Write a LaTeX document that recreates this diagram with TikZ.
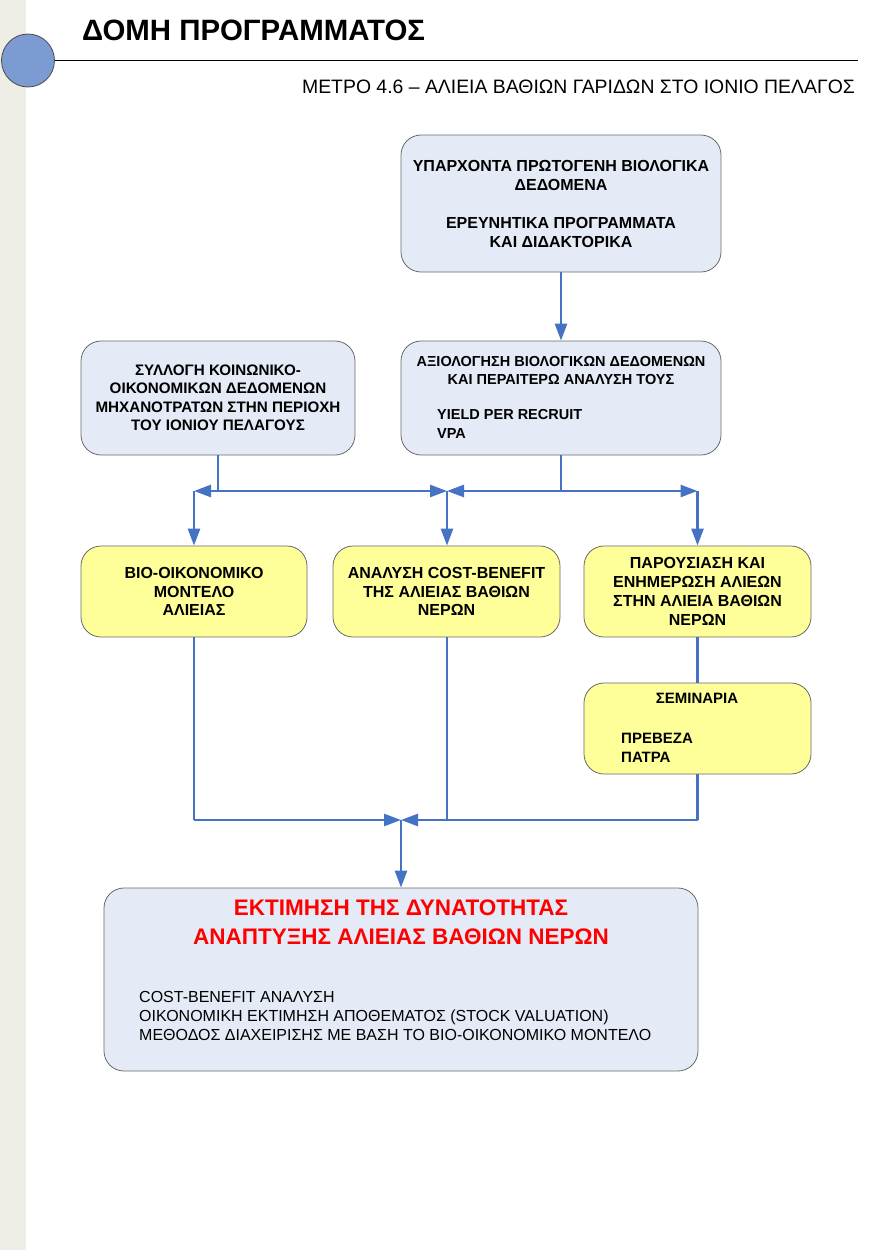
\documentclass[tikz,border=0pt]{standalone}
\usepackage{fontspec}
\setmainfont{Liberation Sans}
\usetikzlibrary{arrows.meta}

\definecolor{flowblue}{RGB}{68,114,196}
\definecolor{boxblue}{RGB}{229,235,246}
\definecolor{boxyellow}{RGB}{255,255,153}
\definecolor{boxline}{RGB}{105,105,105}
\definecolor{sidestrip}{RGB}{238,238,230}
\definecolor{dotblue}{RGB}{124,155,210}

\tikzset{
  bluebox/.style={draw=boxline, fill=boxblue, rounded corners=20pt, line width=0.8pt, inner sep=0pt, align=center},
  yellowbox/.style={draw=boxline, fill=boxyellow, rounded corners=20pt, line width=0.8pt, inner sep=0pt, align=center},
  flow/.style={draw=flowblue, line width=2.6pt},
  flowarrow/.style={flow, -{Triangle[length=17pt,width=12pt]}},
  label/.style={inner sep=0pt},
}

\begin{document}
\begin{tikzpicture}[x=1pt, y=-1pt]
    \useasboundingbox (0,0) rectangle (870,1250);
    \fill[sidestrip] (0,0) rectangle (26,1250);

    % header
    \node[circle, draw=black!70, fill=dotblue, line width=0.8pt, minimum size=53pt, inner sep=0pt] (dot) at (28,60.5) {};
    \draw[line width=1.4pt] (dot.east) -- (858,60.5);
    \node[label, anchor=base west, font=\fontsize{29.4}{34}\selectfont\bfseries] (title) at (82,40) {ΔΟΜΗ ΠΡΟΓΡΑΜΜΑΤΟΣ};
    \node[label, anchor=base east, font=\fontsize{19.4}{22}\selectfont] (subtitle) at (855,93) {ΜΕΤΡΟ 4.6 – ΑΛΙΕΙΑ ΒΑΘΙΩΝ ΓΑΡΙΔΩΝ ΣΤΟ ΙΟΝΙΟ ΠΕΛΑΓΟΣ};

    % boxes
    \node[bluebox, minimum width=320pt, minimum height=137pt, font=\fontsize{16}{19}\selectfont\bfseries] (sources) at (561,203.5)
        {ΥΠΑΡΧΟΝΤΑ ΠΡΩΤΟΓΕΝΗ ΒΙΟΛΟΓΙΚΑ\\ΔΕΔΟΜΕΝΑ\\[19pt]ΕΡΕΥΝΗΤΙΚΑ ΠΡΟΓΡΑΜΜΑΤΑ\\ΚΑΙ ΔΙΔΑΚΤΟΡΙΚΑ};
    \node[bluebox, minimum width=274pt, minimum height=114pt, font=\fontsize{15.2}{18.5}\selectfont\bfseries] (social) at (218,398)
        {ΣΥΛΛΟΓΗ ΚΟΙΝΩΝΙΚΟ-\\ΟΙΚΟΝΟΜΙΚΩΝ ΔΕΔΟΜΕΝΩΝ\\ΜΗΧΑΝΟΤΡΑΤΩΝ ΣΤΗΝ ΠΕΡΙΟΧΗ\\ΤΟΥ ΙΟΝΙΟΥ ΠΕΛΑΓΟΥΣ};
    \node[bluebox, minimum width=320pt, minimum height=114pt] (eval) at (561,398) {};
    \node[label, align=center, font=\fontsize{14.5}{18}\selectfont\bfseries] (evaltitle) at (561,371)
        {ΑΞΙΟΛΟΓΗΣΗ ΒΙΟΛΟΓΙΚΩΝ ΔΕΔΟΜΕΝΩΝ\\ΚΑΙ ΠΕΡΑΙΤΕΡΩ ΑΝΑΛΥΣΗ ΤΟΥΣ};
    \node[label, align=left, anchor=west, font=\fontsize{14.5}{19}\selectfont\bfseries] (evallist) at (437,423.5)
        {YIELD PER RECRUIT\\VPA};

    \node[yellowbox, minimum width=226pt, minimum height=91pt, font=\fontsize{16}{18.5}\selectfont\bfseries] (bio) at (194,591.5)
        {ΒΙΟ-ΟΙΚΟΝΟΜΙΚΟ\\ΜΟΝΤΕΛΟ\\ΑΛΙΕΙΑΣ};
    \node[yellowbox, minimum width=227pt, minimum height=91pt, font=\fontsize{16}{18.5}\selectfont\bfseries] (cba) at (446.5,591.5)
        {ΑΝΑΛΥΣΗ COST-BENEFIT\\ΤΗΣ ΑΛΙΕΙΑΣ ΒΑΘΙΩΝ\\ΝΕΡΩΝ};
    \node[yellowbox, minimum width=227pt, minimum height=91pt, font=\fontsize{16}{19}\selectfont\bfseries] (inform) at (697.5,591.5)
        {ΠΑΡΟΥΣΙΑΣΗ ΚΑΙ\\ΕΝΗΜΕΡΩΣΗ ΑΛΙΕΩΝ\\ΣΤΗΝ ΑΛΙΕΙΑ ΒΑΘΙΩΝ\\ΝΕΡΩΝ};
    \node[yellowbox, minimum width=227pt, minimum height=91pt] (seminar) at (697.5,728.5) {};
    \node[label, font=\fontsize{15}{19}\selectfont\bfseries] (seminartitle) at (697,698) {ΣΕΜΙΝΑΡΙΑ};
    \node[label, align=left, anchor=west, font=\fontsize{15}{19}\selectfont\bfseries] (seminarlist) at (621,747.5)
        {ΠΡΕΒΕΖΑ\\ΠΑΤΡΑ};

    \node[bluebox, minimum width=594pt, minimum height=183pt] (result) at (401,979.5) {};
    \node[label, align=center, text=red, font=\fontsize{22.5}{29}\selectfont\bfseries] (resulttitle) at (401,922.5)
        {ΕΚΤΙΜΗΣΗ ΤΗΣ ΔΥΝΑΤΟΤΗΤΑΣ\\ΑΝΑΠΤΥΞΗΣ ΑΛΙΕΙΑΣ ΒΑΘΙΩΝ ΝΕΡΩΝ};
    \node[label, align=left, anchor=west, font=\fontsize{16}{19}\selectfont] (resultlist) at (139,1016)
        {COST-BENEFIT ΑΝΑΛΥΣΗ\\ΟΙΚΟΝΟΜΙΚΗ ΕΚΤΙΜΗΣΗ ΑΠΟΘΕΜΑΤΟΣ (STOCK VALUATION)\\ΜΕΘΟΔΟΣ ΔΙΑΧΕΙΡΙΣΗΣ ΜΕ ΒΑΣΗ ΤΟ ΒΙΟ-ΟΙΚΟΝΟΜΙΚΟ ΜΟΝΤΕΛΟ};

    % connectors
    \coordinate (split) at (447,491);
    \coordinate (merge) at (401,820);

    \draw[flowarrow] (sources) -- (eval);

    \draw[flow] (social.south) -- (social.south |- split);
    \draw[flowarrow] (social.south |- split) -- (bio.north |- split);
    \draw[flowarrow] (social.south |- split) -- (split);
    \draw[flow] (eval.south) -- (eval.south |- split);
    \draw[flowarrow] (eval.south |- split) -- (split);
    \draw[flowarrow] (eval.south |- split) -- (inform.north |- split);

    \draw[flowarrow] (bio.north |- split) -- (bio.north);
    \draw[flowarrow] (split) -- (cba.north -| split);
    \draw[flowarrow] (inform.north |- split) -- (inform.north);

    \draw[flow] (inform.south) -- (seminar.north);
    \draw[flow] (bio.south) -- (bio.south |- merge);
    \draw[flowarrow] (bio.south |- merge) -- (merge);
    \draw[flow] (cba.south -| split) -- (split |- merge);
    \draw[flow] (seminar.south) -- (seminar.south |- merge);
    \draw[flowarrow] (seminar.south |- merge) -- (merge);
    \draw[flowarrow] (merge) -- (result.north);
\end{tikzpicture}
\end{document}
